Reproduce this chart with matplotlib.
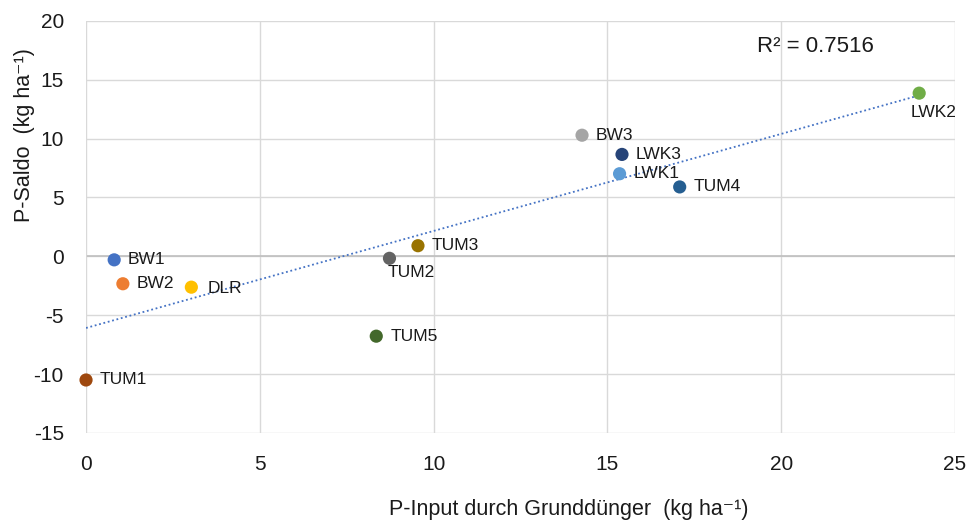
import numpy as np
import matplotlib.pyplot as plt

plt.rcParams['font.family'] = ['Liberation Sans', 'DejaVu Sans']
plt.rcParams['axes.unicode_minus'] = False

# data
names = ['TUM1', 'BW1', 'BW2', 'DLR', 'TUM5', 'TUM2', 'TUM3',
         'BW3', 'LWK1', 'LWK3', 'TUM4', 'LWK2']
p_input = [0.0, 0.81, 1.06, 3.03, 8.35, 8.73, 9.55,
           14.27, 15.35, 15.42, 17.08, 23.97]
p_saldo = [-10.5, -0.3, -2.33, -2.62, -6.78, -0.17, 0.9,
           10.28, 7.01, 8.65, 5.89, 13.85]
colors = ['#9E480E', '#4472C4', '#ED7D31', '#FFC000', '#43682B', '#636363', '#997300',
          '#A5A5A5', '#5B9BD5', '#264478', '#255E91', '#70AD47']
# label offsets in points (dx, dy)
offsets = {'TUM2': (-1, -10), 'LWK2': (-6, -14), 'DLR': (12, -1)}

fig = plt.figure(figsize=(9.71, 5.22), dpi=100)
ax = fig.add_axes([0.0886, 0.1705, 0.8949, 0.7898])

# linear trend line over data range
k, d = np.polyfit(p_input, p_saldo, 1)
xs = np.array([min(p_input), max(p_input)])
ax.plot(xs, k * xs + d, color='#4472C4', linestyle=(0, (1, 1.5)), linewidth=1.3, zorder=2)

ax.scatter(p_input, p_saldo, s=90, c=colors, zorder=3, linewidths=0, clip_on=False)

for n, x, y in zip(names, p_input, p_saldo):
    dx, dy = offsets.get(n, (10, 0))
    ax.annotate(n, (x, y), xytext=(dx, dy), textcoords='offset points',
                ha='left', va='center', fontsize=12.5, color='#1a1a1a')

ax.text(19.3, 17.8, 'R² = 0.7516', fontsize=16, ha='left', va='center', color='#1a1a1a')

ax.set_xlim(0, 25)
ax.set_ylim(-15, 20)
ax.set_xticks(range(0, 26, 5))
ax.set_yticks(range(-15, 21, 5))
ax.grid(True, color='#D9D9D9', linewidth=1)
ax.axhline(0, color='#BFBFBF', linewidth=1.2, zorder=1)
ax.set_axisbelow(True)
for s in ax.spines.values():
    s.set_visible(False)
ax.axvline(0, color='#D9D9D9', linewidth=1.2, zorder=1)
ax.tick_params(length=0, labelsize=15, colors='#1a1a1a')
ax.tick_params(axis='y', pad=16)
ax.tick_params(axis='x', pad=15.5)

ax.set_xlabel('P-Input durch Grunddünger  (kg ha⁻¹)', fontsize=15.5, color='#1a1a1a')
ax.set_ylabel('P-Saldo  (kg ha⁻¹)', fontsize=15.5, color='#1a1a1a')
ax.xaxis.set_label_coords(0.556, (433 - 510) / 412.3)
ax.xaxis.label.set_va('center')
ax.yaxis.set_label_coords((24 - 86) / 869, 0.723)
ax.yaxis.label.set_va('center')

fig.savefig('out.png', dpi=100)
